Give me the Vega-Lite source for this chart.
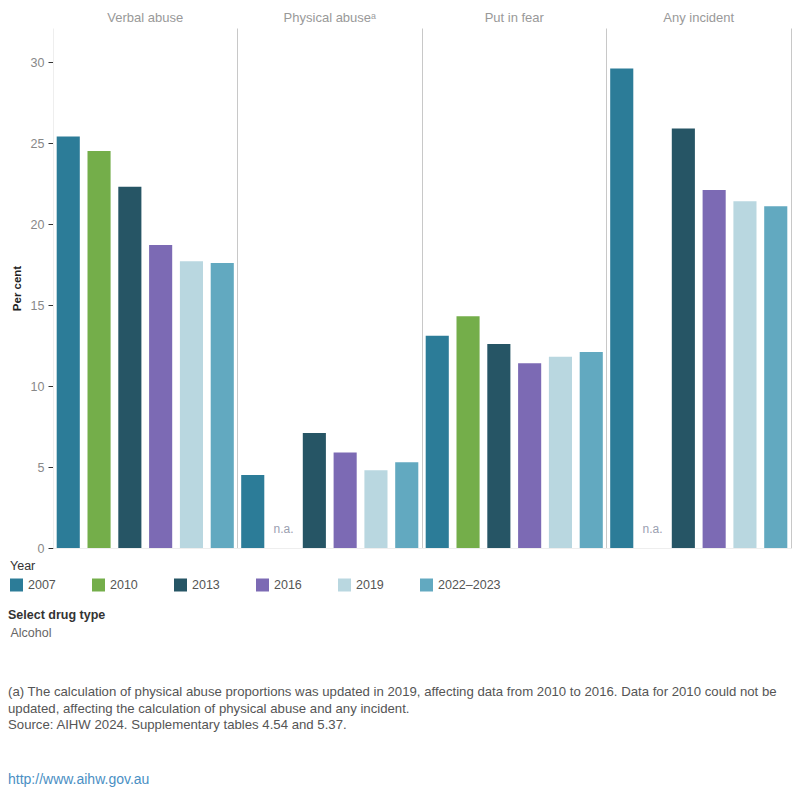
{
  "$schema": "https://vega.github.io/schema/vega-lite/v6.json",
  "width": 738,
  "height": 520,
  "autosize": {"type": "none"},
  "padding": {"left": 53, "top": 28, "right": 9, "bottom": 252},
  "background": "white",
  "config": {"view": {"stroke": null}, "font": "Liberation Sans"},
  "title": {
    "text": [
      "(a) The calculation of physical abuse proportions was updated in 2019, affecting data from 2010 to 2016. Data for 2010 could not be",
      "updated, affecting the calculation of physical abuse and any incident.",
      "Source: AIHW 2024. Supplementary tables 4.54 and 5.37."
    ],
    "orient": "bottom",
    "anchor": "start",
    "frame": "bounds",
    "offset": 46,
    "dx": 0,
    "font": "Liberation Sans",
    "fontSize": 13.2,
    "fontWeight": "normal",
    "color": "#555555",
    "lineHeight": 16.5,
    "subtitle": "http://www.aihw.gov.au",
    "subtitleFont": "Liberation Sans",
    "subtitleFontSize": 14,
    "subtitleColor": "#4a8fc4",
    "subtitlePadding": 41
  },
  "data": {
    "values": [
      {"incident": "Verbal abuse", "year": "2007", "value": 25.4, "drug": "Alcohol"},
      {"incident": "Verbal abuse", "year": "2010", "value": 24.5, "drug": "Alcohol"},
      {"incident": "Verbal abuse", "year": "2013", "value": 22.3, "drug": "Alcohol"},
      {"incident": "Verbal abuse", "year": "2016", "value": 18.7, "drug": "Alcohol"},
      {"incident": "Verbal abuse", "year": "2019", "value": 17.7, "drug": "Alcohol"},
      {"incident": "Verbal abuse", "year": "2022–2023", "value": 17.6, "drug": "Alcohol"},
      {"incident": "Physical abuseᵃ", "year": "2007", "value": 4.5, "drug": "Alcohol"},
      {"incident": "Physical abuseᵃ", "year": "2010", "value": null, "drug": "Alcohol"},
      {"incident": "Physical abuseᵃ", "year": "2013", "value": 7.1, "drug": "Alcohol"},
      {"incident": "Physical abuseᵃ", "year": "2016", "value": 5.9, "drug": "Alcohol"},
      {"incident": "Physical abuseᵃ", "year": "2019", "value": 4.8, "drug": "Alcohol"},
      {"incident": "Physical abuseᵃ", "year": "2022–2023", "value": 5.3, "drug": "Alcohol"},
      {"incident": "Put in fear", "year": "2007", "value": 13.1, "drug": "Alcohol"},
      {"incident": "Put in fear", "year": "2010", "value": 14.3, "drug": "Alcohol"},
      {"incident": "Put in fear", "year": "2013", "value": 12.6, "drug": "Alcohol"},
      {"incident": "Put in fear", "year": "2016", "value": 11.4, "drug": "Alcohol"},
      {"incident": "Put in fear", "year": "2019", "value": 11.8, "drug": "Alcohol"},
      {"incident": "Put in fear", "year": "2022–2023", "value": 12.1, "drug": "Alcohol"},
      {"incident": "Any incident", "year": "2007", "value": 29.6, "drug": "Alcohol"},
      {"incident": "Any incident", "year": "2010", "value": null, "drug": "Alcohol"},
      {"incident": "Any incident", "year": "2013", "value": 25.9, "drug": "Alcohol"},
      {"incident": "Any incident", "year": "2016", "value": 22.1, "drug": "Alcohol"},
      {"incident": "Any incident", "year": "2019", "value": 21.4, "drug": "Alcohol"},
      {"incident": "Any incident", "year": "2022–2023", "value": 21.1, "drug": "Alcohol"}
    ]
  },
  "layer": [
    {
      "mark": {"type": "bar"},
      "encoding": {
        "x": {
          "field": "incident",
          "type": "nominal",
          "sort": ["Verbal abuse", "Physical abuseᵃ", "Put in fear", "Any incident"],
          "scale": {"paddingInner": 0, "paddingOuter": 0},
          "axis": {
            "orient": "top",
            "title": null,
            "domain": false,
            "ticks": false,
            "grid": false,
            "labelAngle": 0,
            "labelColor": "#999999",
            "labelFontSize": 13,
            "labelPadding": 4
          }
        },
        "xOffset": {
          "field": "year",
          "type": "nominal",
          "sort": ["2007", "2010", "2013", "2016", "2019", "2022–2023"],
          "scale": {"paddingInner": 0.25, "paddingOuter": 0.12}
        },
        "y": {
          "field": "value",
          "type": "quantitative",
          "scale": {"domain": [0, 32.1], "nice": false},
          "axis": {
            "title": "Per cent",
            "titleColor": "#222222",
            "titleFontSize": 11.5,
            "titleFontWeight": 600,
            "titlePadding": 8,
            "values": [0, 5, 10, 15, 20, 25, 30],
            "grid": false,
            "domainColor": "#eeeeee",
            "tickColor": "#333333",
            "tickSize": 5,
            "labelColor": "#888888",
            "labelFontSize": 12.5,
            "labelPadding": 4
          }
        },
        "color": {
          "field": "year",
          "type": "nominal",
          "sort": ["2007", "2010", "2013", "2016", "2019", "2022–2023"],
          "scale": {"range": ["#2c7c98", "#74ae4a", "#265565", "#7c6ab4", "#b9d7e0", "#62a9c0"]},
          "legend": {
            "orient": "none",
            "legendX": -43,
            "legendY": 532,
            "direction": "horizontal",
            "columns": 6,
            "gridAlign": "all",
            "columnPadding": 1,
            "title": "Year",
            "titleColor": "#333333",
            "titleFontSize": 12.5,
            "titleFontWeight": "normal",
            "titlePadding": 6,
            "labelColor": "#555555",
            "labelFontSize": 12.5,
            "labelOffset": 5,
            "symbolType": "square",
            "symbolSize": 169,
            "symbolStrokeWidth": 0
          }
        },
        "strokeDash": {
          "field": "drug",
          "type": "nominal",
          "scale": {"range": [[1, 0]]},
          "legend": {
            "orient": "none",
            "legendX": -45,
            "legendY": 581,
            "title": "Select drug type",
            "titleColor": "#333333",
            "titleFontSize": 12.5,
            "titleFontWeight": 600,
            "titlePadding": 5,
            "labelColor": "#666666",
            "labelFontSize": 12.5,
            "labelOffset": -10,
            "symbolSize": 0,
            "symbolStrokeWidth": 0,
            "symbolOpacity": 0
          }
        }
      }
    },
    {
      "transform": [{"filter": "datum.value === null"}],
      "mark": {"type": "text", "dy": -19, "fontSize": 12, "color": "#9aa0b0"},
      "encoding": {
        "x": {
          "field": "incident",
          "type": "nominal",
          "sort": ["Verbal abuse", "Physical abuseᵃ", "Put in fear", "Any incident"],
          "axis": {
            "orient": "bottom",
            "title": null,
            "labels": false,
            "ticks": false,
            "domainColor": "#eeeeee",
            "grid": true,
            "gridColor": "#c8c8c8",
            "bandPosition": 1
          }
        },
        "xOffset": {
          "field": "year",
          "type": "nominal",
          "sort": ["2007", "2010", "2013", "2016", "2019", "2022–2023"]
        },
        "y": {"datum": 0, "type": "quantitative"},
        "text": {"value": "n.a."}
      }
    }
  ],
  "resolve": {"axis": {"x": "independent"}}
}
